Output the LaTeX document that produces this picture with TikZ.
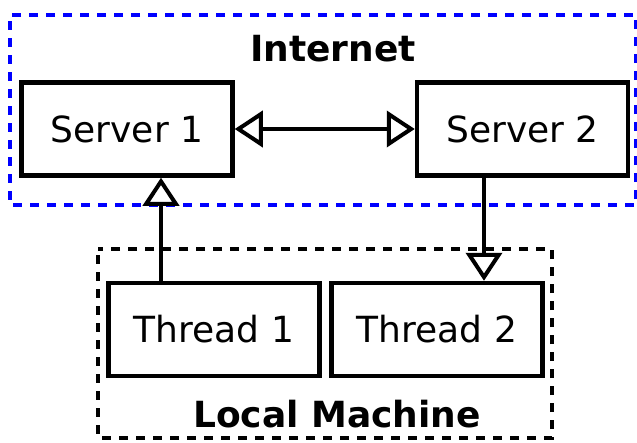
\documentclass[tikz,border=0pt]{standalone}
\usepackage{fontspec}
\setmainfont{DejaVu Sans}
\usetikzlibrary{arrows.meta}
\begin{document}
\begin{tikzpicture}[x=1pt,y=-1pt,
  box/.style={draw=black, line width=4.5pt, minimum width=211pt, minimum height=93pt,
    inner sep=0pt, font=\fontsize{36}{40}\selectfont},
  group/.style={line width=4pt, dash pattern=on 9pt off 8pt, dash phase=-6pt},
  title/.style={font=\fontsize{36}{40}\selectfont\bfseries, anchor=base, inner sep=0pt},
  link/.style={line width=4pt, -{Triangle[open, length=28pt, width=36pt, line width=4pt]}},
  twolink/.style={line width=4pt, {Triangle[open, length=28pt, width=36pt, line width=4pt]}-{Triangle[open, length=28pt, width=36pt, line width=4pt]}}]
  \useasboundingbox (0,0) rectangle (637,442);
  % internet group
  \draw[group, draw=blue] (10,15) rectangle (636,205);
  \node[title] (inet) at (333,61) {Internet};
  % local machine group
  \draw[group, draw=black] (98,249) rectangle (552,438);
  \node[title] (local) at (337,427) {Local Machine};
  % servers and threads
  \node[box] (s1) at (127,129) {Server 1};
  \node[box] (s2) at (522.5,129) {Server 2};
  \node[box] (t1) at (214,329.5) {Thread 1};
  \node[box] (t2) at (437,329.5) {Thread 2};
  % connections
  \draw[twolink] (s1.east) -- (s2.west);
  \draw[link] (t1.north -| 161,0) -- (s1.south -| 161,0);
  \draw[link] (s2.south -| 484,0) -- (t2.north -| 484,0);
\end{tikzpicture}
\end{document}
